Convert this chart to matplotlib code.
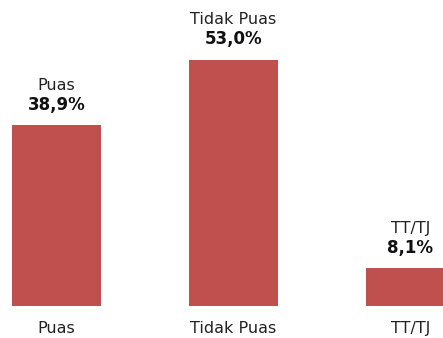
import matplotlib
matplotlib.use("Agg")
import matplotlib.pyplot as plt

# data
categories = ["Puas", "Tidak Puas", "TT/TJ"]
values = [38.9, 53.0, 8.1]
value_labels = ["38,9%", "53,0%", "8,1%"]

bar_color = "#C0504D"

fig = plt.figure(figsize=(4.43, 3.38), dpi=100)
ax = fig.add_axes([0, 32 / 338, 1, 306 / 338])

x = range(len(categories))
bars = ax.bar(x, values, width=0.5, color=bar_color)

ax.set_xlim(-0.319, 2.184)
ax.set_ylim(0, 65.8)

# category labels under the bars
ax.set_xticks(list(x))
ax.set_xticklabels(categories, fontsize=11.5, color="#222222")
ax.tick_params(axis="x", length=0, pad=11)
ax.set_yticks([])
for s in ax.spines.values():
    s.set_visible(False)

# two-line labels above each bar
for bar, cat, lab in zip(bars, categories, value_labels):
    cx = bar.get_x() + bar.get_width() / 2
    top = bar.get_height()
    ax.annotate(lab, (cx, top), xytext=(0, 11), textcoords="offset points",
                ha="center", va="baseline", fontsize=12, fontweight="bold",
                color="#111111", annotation_clip=False)
    ax.annotate(cat, (cx, top), xytext=(0, 25.5), textcoords="offset points",
                ha="center", va="baseline", fontsize=11.5, color="#222222",
                annotation_clip=False)

fig.savefig("out.png", dpi=100)
